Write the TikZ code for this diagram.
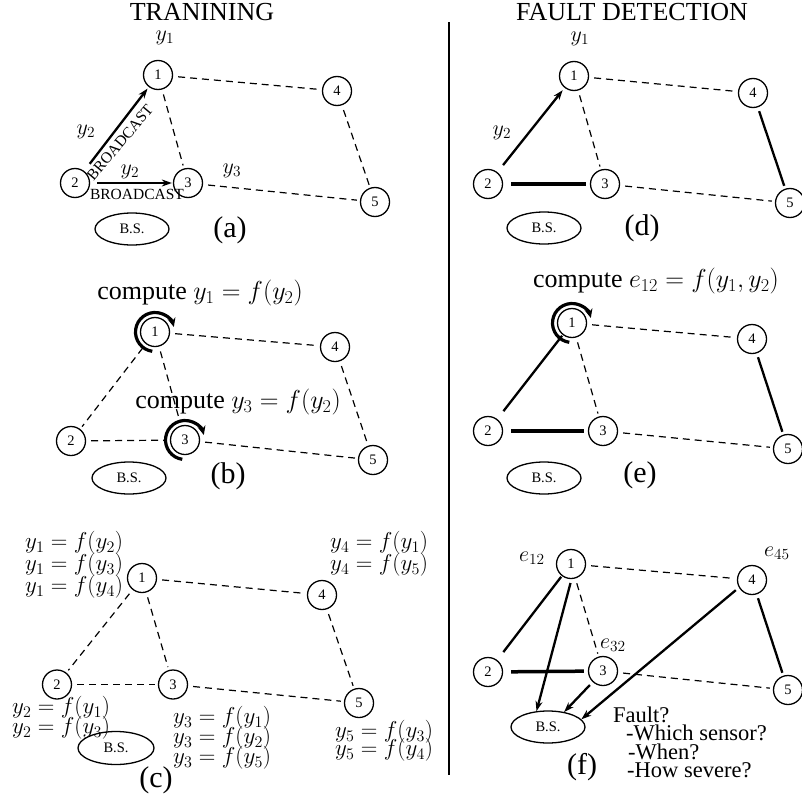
\RequirePackage{fix-cm}
\documentclass[tikz,border=0pt]{standalone}
\usepackage[no-math]{fontspec}
\setmainfont{Liberation Serif}
\usetikzlibrary{shapes.geometric,arrows.meta}
\begin{document}
\begin{tikzpicture}[x=1pt,y=1pt,
  nd/.style={circle,draw,line width=1.3pt,minimum size=29pt,inner sep=0pt,font=\fontsize{14.5}{14.5}\selectfont},
  bs/.style={ellipse,draw,line width=1.3pt,minimum width=74pt,minimum height=32pt,inner sep=0pt,font=\fontsize{14.5}{14.5}\selectfont},
  dsh/.style={line width=1.2pt,dash pattern=on 7pt off 5pt,shorten <=5pt,shorten >=3pt},
  sol/.style={line width=2.3pt,shorten <=4pt,shorten >=3pt},
  solA/.style={line width=2.3pt,shorten <=10pt,shorten >=1pt},
  heavy/.style={line width=3.5pt,shorten <=8pt,shorten >=4pt},
  arr/.style={line width=2.3pt,-{Stealth[length=10pt,width=7pt]}},
  cyc/.style={line width=3.2pt,-{Stealth[length=9pt,width=8pt]}},
  lab/.style={font=\fontsize{30}{30}\selectfont,inner sep=0pt},
  ttl/.style={font=\fontsize{26}{26}\selectfont,anchor=base,inner sep=0pt},
  mth/.style={font=\fontsize{22}{22}\selectfont,inner sep=0pt},
  eq/.style={font=\fontsize{23}{23}\selectfont,anchor=west,inner sep=0pt},
  cmp/.style={font=\fontsize{26}{26}\selectfont,inner sep=0pt},
  bc/.style={font=\fontsize{15.5}{15.5}\selectfont,inner sep=0pt},
  flt/.style={font=\fontsize{22.5}{22.5}\selectfont,anchor=base west,inner sep=0pt},
]
\useasboundingbox (0,0) rectangle (802,-803);

% titles and divider
\node[ttl] (t1) at (202,-20.5) {TRANINING};
\node[ttl] (t2) at (632,-20) {FAULT DETECTION};
\coordinate (dv1) at (449,-22);
\coordinate (dv2) at (449,-775);
\draw[line width=2pt] (dv1) -- (dv2);

% ---------------- (a)
\node[nd] (a1) at (158,-75) {1};
\node[nd] (a2) at (75,-183) {2};
\node[nd] (a3) at (188,-183) {3};
\node[nd] (a4) at (337,-91) {4};
\node[nd] (a5) at (375,-202) {5};
\node[bs] (abs) at (132,-229) {B.S.};
\draw[dsh] (a1) -- (a4);
\draw[dsh] (a1) -- (a3);
\draw[dsh] (a3) -- (a5);
\draw[dsh] (a4) -- (a5);
\draw[arr,shorten <=9pt,shorten >=2pt] (a2) -- (a1);
\draw[arr,shorten <=7pt,shorten >=1pt] (a2) -- (a3);
\node[mth] (ay1) at (165,-38) {$y_1$};
\node[mth] (ay2) at (86,-132) {$y_2$};
\node[mth] (ay2b) at (130,-172) {$y_2$};
\node[mth] (ay3) at (232,-171) {$y_3$};
\node[bc,rotate=50] (abc1) at (120,-142.5) {BROADCAST};
\node[bc] (abc2) at (137,-194) {BROADCAST};
\node[lab] (la) at (230,-230) {(a)};

% ---------------- (b)
\node[nd] (b1) at (155,-332) {1};
\node[nd] (b2) at (71,-441) {2};
\node[nd] (b3) at (185,-440) {3};
\node[nd] (b4) at (335,-347) {4};
\node[nd] (b5) at (373,-460) {5};
\node[bs] (bbs) at (129,-478) {B.S.};
\draw[dsh] (b1) -- (b4);
\draw[dsh] (b1) -- (b3);
\draw[dsh] (b1) -- (b2);
\draw[dsh] (b2) -- (b3);
\draw[dsh] (b3) -- (b5);
\draw[dsh] (b4) -- (b5);
\draw[cyc] ([shift={(262:19.5pt)}]b1.center) arc[start angle=262,end angle=15,radius=19.5pt];
\draw[cyc] ([shift={(262:19.5pt)}]b3.center) arc[start angle=262,end angle=15,radius=19.5pt];
\node[cmp] (bc1) at (200,-293) {compute $y_1=f(y_2)$};
\node[cmp] (bc2) at (238,-402) {compute $y_3=f(y_2)$};
\node[lab] (lb) at (228,-476) {(b)};

% ---------------- (c)
\node[nd] (c1) at (142,-578) {1};
\node[nd] (c2) at (57,-684.5) {2};
\node[nd] (c3) at (173,-684.5) {3};
\node[nd] (c4) at (322,-595) {4};
\node[nd] (c5) at (359,-703) {5};
\node[bs,minimum width=76pt,minimum height=33pt] (cbs) at (116,-748) {B.S.};
\draw[dsh] (c1) -- (c4);
\draw[dsh] (c1) -- (c3);
\draw[dsh] (c1) -- (c2);
\draw[dsh] (c2) -- (c3);
\draw[dsh] (c3) -- (c5);
\draw[dsh] (c4) -- (c5);
\node[eq] (cy1a) at (25,-543) {$y_1=f(y_2)$};
\node[eq] (cy1b) at (25,-565) {$y_1=f(y_3)$};
\node[eq] (cy1c) at (25,-587) {$y_1=f(y_4)$};
\node[eq] (cy4a) at (330,-543) {$y_4=f(y_1)$};
\node[eq] (cy4b) at (330,-565) {$y_4=f(y_5)$};
\node[eq] (cy2a) at (12,-708) {$y_2=f(y_1)$};
\node[eq] (cy2b) at (12,-728) {$y_2=f(y_3)$};
\node[eq] (cy3a) at (173,-718) {$y_3=f(y_1)$};
\node[eq] (cy3b) at (173,-738) {$y_3=f(y_2)$};
\node[eq] (cy3c) at (173,-758) {$y_3=f(y_5)$};
\node[eq] (cy5a) at (335,-732) {$y_5=f(y_3)$};
\node[eq] (cy5b) at (335,-750) {$y_5=f(y_4)$};
\node[lab] (lc) at (156,-780) {(c)};

% ---------------- (d)
\node[nd] (d1) at (574,-76) {1};
\node[nd] (d2) at (488,-184) {2};
\node[nd] (d3) at (605,-184) {3};
\node[nd] (d4) at (753,-93) {4};
\node[nd] (d5) at (790,-203) {5};
\node[bs] (dbs) at (544,-228) {B.S.};
\draw[dsh] (d1) -- (d4);
\draw[dsh] (d1) -- (d3);
\draw[dsh] (d3) -- (d5);
\draw[sol] (d4) -- (d5);
\draw[heavy] (d2) -- (d3);
\draw[arr,shorten <=9pt,shorten >=3pt] (d2) -- (d1);
\node[mth] (dy1) at (580,-39) {$y_1$};
\node[mth] (dy2) at (502,-133) {$y_2$};
\node[lab] (ld) at (642,-228) {(d)};

% ---------------- (e)
\node[nd] (e1) at (572,-323) {1};
\node[nd] (e2) at (488,-431) {2};
\node[nd] (e3) at (603,-431) {3};
\node[nd] (e4) at (752,-339) {4};
\node[nd] (e5) at (788,-449) {5};
\node[bs] (ebs) at (544,-478) {B.S.};
\draw[dsh] (e1) -- (e4);
\draw[dsh] (e1) -- (e3);
\draw[dsh] (e3) -- (e5);
\draw[sol] (e4) -- (e5);
\draw[heavy] (e2) -- (e3);
\draw[solA] (e2) -- (e1);
\draw[cyc] ([shift={(262:19.5pt)}]e1.center) arc[start angle=262,end angle=15,radius=19.5pt];
\node[cmp] (ec1) at (656,-281) {compute $e_{12}=f(y_1,y_2)$};
\node[lab] (le) at (640,-475) {(e)};

% ---------------- (f)
\node[nd] (f1) at (571,-564) {1};
\node[nd] (f2) at (488,-672) {2};
\node[nd] (f3) at (603,-671) {3};
\node[nd] (f4) at (752,-580) {4};
\node[nd] (f5) at (788,-690) {5};
\node[bs] (fbs) at (548,-727) {B.S.};
\draw[dsh] (f1) -- (f4);
\draw[dsh] (f1) -- (f3);
\draw[dsh] (f3) -- (f5);
\draw[sol] (f4) -- (f5);
\draw[heavy] (f2) -- (f3);
\draw[solA] (f2) -- (f1);
\draw[arr,shorten <=4pt] (f1.-88) -- (fbs.126);
\draw[arr,shorten <=4pt] (f3.227) -- (fbs.43);
\draw[arr,shorten <=4pt] (f4.210) -- (fbs.13);
\node[mth] (fe12) at (532,-558) {$e_{12}$};
\node[mth] (fe45) at (777,-553) {$e_{45}$};
\node[mth] (fe32) at (613,-645) {$e_{32}$};
\node[flt] (q1) at (613,-722) {Fault?};
\node[flt] (q2) at (626,-740) {-Which sensor?};
\node[flt] (q3) at (628,-759) {-When?};
\node[flt] (q4) at (627,-777) {-How severe?};
\node[lab] (lf) at (582,-767) {(f)};
\end{tikzpicture}
\end{document}
